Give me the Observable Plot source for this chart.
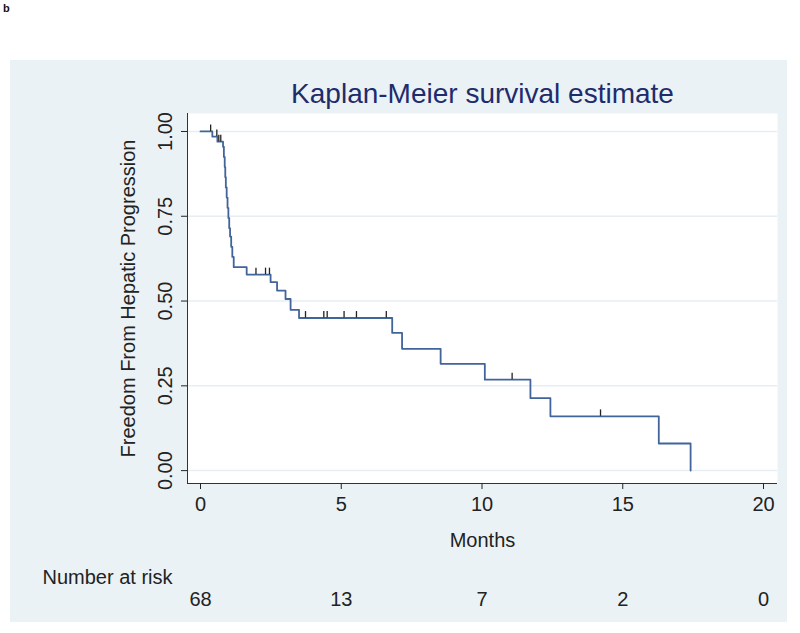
<!DOCTYPE html>
<html>
<head>
<meta charset="utf-8">
<script src="https://cdn.jsdelivr.net/npm/d3@7"></script>
<script src="https://cdn.jsdelivr.net/npm/@observablehq/plot@0.6"></script>
<style>
  html, body { margin: 0; padding: 0; background: #ffffff; }
  #wrap { position: relative; width: 800px; height: 633px; overflow: hidden; font-family: "Liberation Sans", Arial, sans-serif; }
  #panel { position: absolute; left: 10px; top: 60px; width: 777px; height: 562px; background: #ebf2f5; }
  #tag { position: absolute; left: 3px; top: 2px; font-size: 11px; font-weight: bold; color: #111; }
  #chart { position: absolute; left: 0; top: 0; }
</style>
</head>
<body>
<div id="wrap">
  <div id="panel"></div>
  <div id="tag">b</div>
  <div id="chart"></div>
</div>
<script>
// Kaplan-Meier step curve: event times (months) and survival after each step
const stepTimes = [0, 0.42, 0.60, 0.80, 0.83, 0.86, 0.88, 0.90, 0.93, 0.96, 0.99, 1.02, 1.05, 1.09, 1.13, 1.18,
  1.64, 2.49, 2.72, 3.02, 3.20, 3.50, 6.81, 7.16, 8.53, 10.10, 11.72, 12.43, 16.28, 17.41];
const stepSurv = [1.0, 0.985, 0.970, 0.955, 0.925, 0.895, 0.865, 0.835, 0.805, 0.775, 0.745, 0.715, 0.690, 0.660, 0.630, 0.600,
  0.578, 0.556, 0.531, 0.506, 0.474, 0.450, 0.406, 0.359, 0.315, 0.268, 0.214, 0.160, 0.080, 0.0];
// Censored observations (months)
const censorTimes = [0.36, 0.58, 0.65, 0.72, 1.97, 2.31, 2.45, 3.73, 4.38, 4.50, 5.10, 5.54, 6.60, 11.07, 14.21];
// Number at risk
const riskTimes = [0, 5, 10, 15, 20];
const riskCounts = [68, 13, 7, 2, 0];
// Axis ticks
const xTicks = [0, 5, 10, 15, 20];
const yTicks = [0, 0.25, 0.5, 0.75, 1];

const curve = stepTimes.map((t, i) => ({t, s: stepSurv[i]}));
const survAt = t => { let s = 1; for (const d of curve) if (d.t <= t) s = d.s; return s; };
const censored = censorTimes.map(t => ({t, s: survAt(t)}));
const risk = riskTimes.map((t, i) => ({t, n: riskCounts[i]}));

const xDomain = [-0.462, 20.497];
const yDomain = [-0.038, 1.053];
const font = "Liberation Sans, Arial, sans-serif";
const txt = "#222222";

const chart = Plot.plot({
  width: 800,
  height: 633,
  marginLeft: 187,
  marginRight: 23,
  marginTop: 113,
  marginBottom: 150,
  style: {background: "transparent", fontFamily: font},
  x: {domain: xDomain, axis: null},
  y: {domain: yDomain, axis: null},
  marks: [
    Plot.frame({fill: "white", stroke: "none"}),
    Plot.ruleY(yTicks, {stroke: "#e6eef2", strokeWidth: 1.5}),
    Plot.ruleX([xDomain[0]], {stroke: "#333", strokeWidth: 1}),
    Plot.ruleY([yDomain[0]], {stroke: "#333", strokeWidth: 1}),
    Plot.axisX({ticks: xTicks, tickSize: 6, tickPadding: 7, fontSize: 20, color: txt, label: null, anchor: "bottom"}),
    Plot.axisY({ticks: yTicks, tickSize: 6, tickPadding: 10, tickRotate: -90, fontSize: 20, color: txt, label: null, anchor: "left", tickFormat: d3.format(".2f")}),
    Plot.line(curve, {x: "t", y: "s", curve: "step-after", stroke: "#41649a", strokeWidth: 1.8}),
    Plot.ruleX(censored, {x: "t", y1: "s", y2: d => d.s + 0.019, stroke: "#222", strokeWidth: 1.3}),
    Plot.text(["Kaplan-Meier survival estimate"], {frameAnchor: "top", dy: -30, fontSize: 28, fill: "#1e2c6c"}),
    Plot.text(["Freedom From Hepatic Progression"], {frameAnchor: "left", textAnchor: "middle", dx: -59, rotate: -90, fontSize: 20, fill: txt}),
    Plot.text(["Months"], {frameAnchor: "bottom", dy: 63, fontSize: 20, fill: txt}),
    Plot.text(["Number at risk"], {frameAnchor: "bottom-left", dx: -145, dy: 100, textAnchor: "start", fontSize: 20, fill: txt}),
    Plot.text(risk, {x: "t", text: "n", frameAnchor: "bottom", dy: 122, fontSize: 20, fill: txt})
  ]
});
document.getElementById("chart").appendChild(chart);
</script>
</body>
</html>
